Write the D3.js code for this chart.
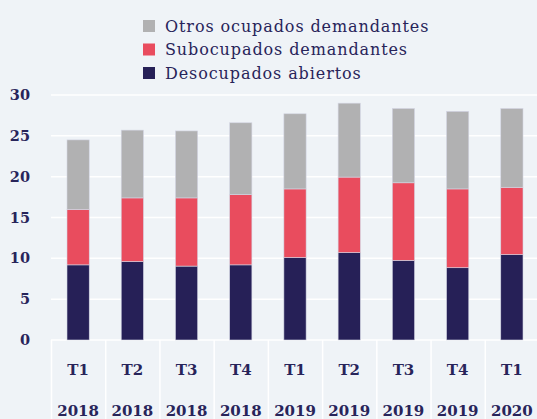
<!DOCTYPE html>
<html>
<head>
<meta charset="utf-8">
<script src="https://cdn.jsdelivr.net/npm/d3@7"></script>
<style>
  body { margin: 0; background: #eff3f7; }
  svg { display: block; }
</style>
</head>
<body>
<svg id="chart" width="537" height="419"></svg>
<script>
const quarters = ["T1", "T2", "T3", "T4", "T1", "T2", "T3", "T4", "T1"];
const years = ["2018", "2018", "2018", "2018", "2019", "2019", "2019", "2019", "2020"];
// values per series (stacked bottom to top)
const desocupados = [9.2, 9.6, 9.05, 9.2, 10.1, 10.7, 9.75, 8.85, 10.45];
const subocupados = [6.8, 7.8, 8.35, 8.6, 8.4, 9.25, 9.5, 9.65, 8.25];
const otros = [8.5, 8.3, 8.2, 8.8, 9.2, 9.05, 9.1, 9.5, 9.65];
const yTicks = [0, 5, 10, 15, 20, 25, 30];

const seriesNames = ["Desocupados abiertos", "Subocupados demandantes", "Otros ocupados demandantes"];
const colors = ["#262057", "#e94c5e", "#b1b1b2"];
const textColor = "#28245a";

const svg = d3.select("#chart");
const margin = { left: 51, right: 0, top: 96, bottom: 79 };
const width = 537, height = 419;

const rows = quarters.map((q, i) => ({
  key: i,
  desocupados: desocupados[i],
  subocupados: subocupados[i],
  otros: otros[i]
}));

const stack = d3.stack().keys(["desocupados", "subocupados", "otros"]);
const layers = stack(rows);

const x = d3.scaleBand()
  .domain(d3.range(quarters.length))
  .range([margin.left, width + 2])
  .paddingInner(0.59)
  .paddingOuter(0.295);

const xSep = d3.scaleBand()
  .domain(d3.range(quarters.length))
  .range([margin.left, width + 2]);

const y = d3.scaleLinear().domain([0, 30]).range([340, 95]);

// gridlines
svg.append("g")
  .selectAll("line")
  .data(yTicks)
  .join("line")
  .attr("x1", margin.left)
  .attr("x2", width)
  .attr("y1", d => y(d))
  .attr("y2", d => y(d))
  .attr("stroke", "#ffffff")
  .attr("stroke-width", 1.5);

// y tick labels
svg.append("g")
  .selectAll("text")
  .data(yTicks)
  .join("text")
  .attr("x", 30)
  .attr("y", d => y(d))
  .attr("dy", "0.35em")
  .attr("text-anchor", "end")
  .attr("font-family", "DejaVu Serif")
  .attr("font-weight", "bold")
  .attr("font-size", 14.5)
  .attr("fill", textColor)
  .text(d => d);

// separators below the axis
svg.append("g")
  .selectAll("line")
  .data(d3.range(quarters.length))
  .join("line")
  .attr("x1", d => xSep(d) + 0.5)
  .attr("x2", d => xSep(d) + 0.5)
  .attr("y1", y(0))
  .attr("y2", height)
  .attr("stroke", "#ffffff")
  .attr("stroke-width", 1.5);

// bars
svg.append("g")
  .selectAll("g")
  .data(layers)
  .join("g")
  .attr("fill", (d, i) => colors[i])
  .selectAll("rect")
  .data(d => d)
  .join("rect")
  .attr("x", (d, i) => x(i))
  .attr("width", x.bandwidth())
  .attr("y", d => y(d[1]))
  .attr("height", d => y(d[0]) - y(d[1]))
  .attr("stroke", "#d4d6e4")
  .attr("stroke-width", 0.6);

// x labels
const xl = svg.append("g")
  .attr("font-family", "DejaVu Serif")
  .attr("font-weight", "bold")
  .attr("font-size", 15)
  .attr("fill", textColor)
  .attr("text-anchor", "middle");

xl.selectAll("text.q")
  .data(quarters)
  .join("text")
  .attr("class", "q")
  .attr("x", (d, i) => xSep(i) + xSep.bandwidth() / 2)
  .attr("y", 370)
  .attr("dy", "0.35em")
  .text(d => d);

xl.selectAll("text.yr")
  .data(years)
  .join("text")
  .attr("class", "yr")
  .attr("x", (d, i) => xSep(i) + xSep.bandwidth() / 2)
  .attr("y", 411)
  .attr("dy", "0.35em")
  .text(d => d);

// legend (top to bottom: otros, subocupados, desocupados)
const legendOrder = [2, 1, 0];
const legend = svg.append("g")
  .selectAll("g")
  .data(legendOrder)
  .join("g")
  .attr("transform", (d, i) => `translate(143, ${26 + i * 23.5})`);

legend.append("rect")
  .attr("x", 0)
  .attr("y", -6)
  .attr("width", 12)
  .attr("height", 12)
  .attr("fill", d => colors[d]);

legend.append("text")
  .attr("x", 22)
  .attr("y", 0)
  .attr("dy", "0.35em")
  .attr("font-family", "DejaVu Serif")
  .attr("font-size", 16)
  .attr("letter-spacing", 0.9)
  .attr("fill", textColor)
  .text(d => seriesNames[d]);
</script>
</body>
</html>
